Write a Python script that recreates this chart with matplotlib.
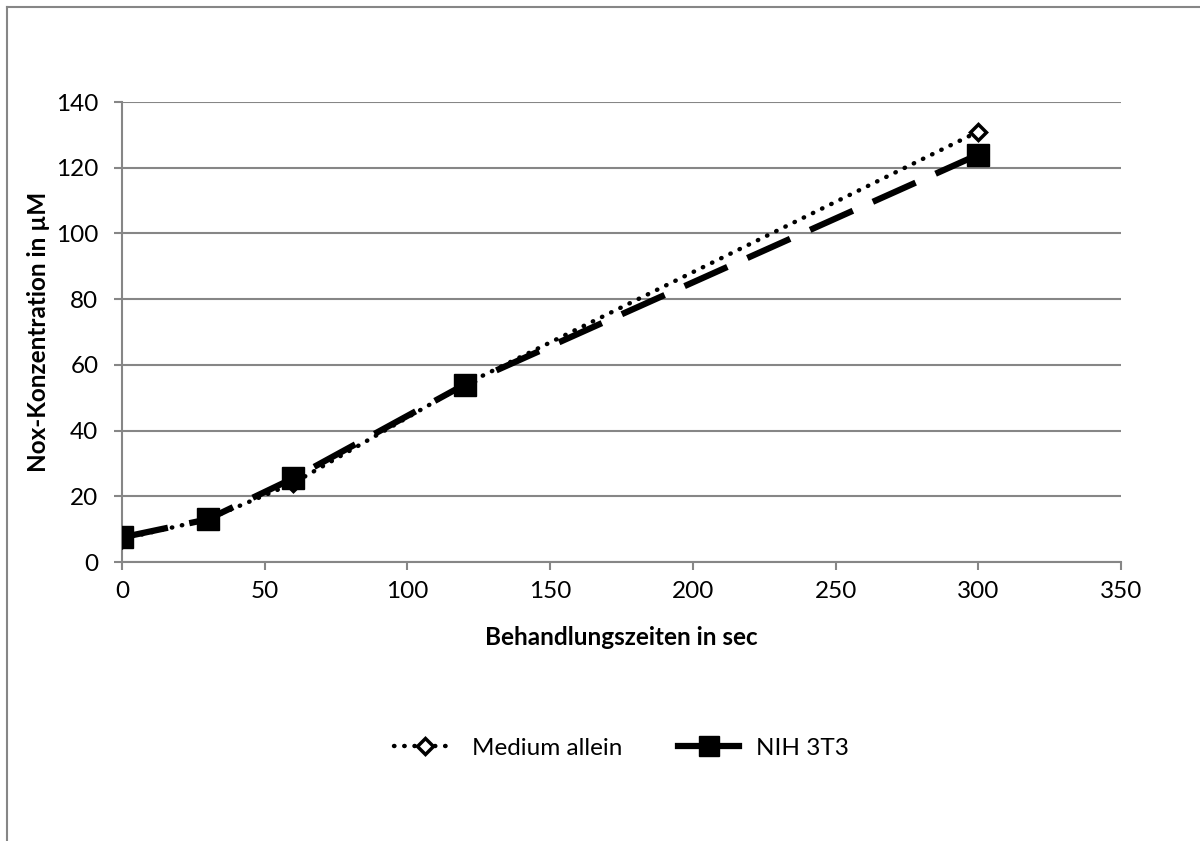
import matplotlib.pyplot as plt
from matplotlib.lines import Line2D

plt.rcParams['font.family'] = ['Lato', 'DejaVu Sans']

zeiten = [0, 30, 60, 120, 300]
medium_allein = [7, 13, 24, 54, 131]
nih_3t3 = [7.5, 13, 25.5, 54, 124]

x_ticks = [0, 50, 100, 150, 200, 250, 300, 350]
y_ticks = [0, 20, 40, 60, 80, 100, 120, 140]

grey = '#868686'

fig = plt.figure(figsize=(12, 8.41), dpi=100)
ax = fig.add_axes([0.1017, 0.3317, 0.8325, 0.547])

# outer chart border (only top/left visible in the source image)
fig.add_artist(Line2D([7 / 1200, 7 / 1200], [0, 1 - 7 / 841], color=grey, lw=1.5,
                      transform=fig.transFigure))
fig.add_artist(Line2D([7 / 1200, 1], [1 - 7 / 841, 1 - 7 / 841], color=grey, lw=1.5,
                      transform=fig.transFigure))

dotted = (0, (0.1, 2.2))
dashed = (0, (7.5, 3.5))

# lines first, markers on top (squares cover the diamonds)
ax.plot(zeiten, nih_3t3, linestyle=dashed, color='black', lw=4.5, zorder=2)
ax.plot(zeiten, medium_allein, linestyle=dotted, dash_capstyle='round',
        color='black', lw=3.2, zorder=3)
ax.plot(zeiten, medium_allein, linestyle='none', marker='D', markersize=8,
        markerfacecolor='white', markeredgecolor='black', markeredgewidth=2.5, zorder=4)
ax.plot(zeiten, nih_3t3, linestyle='none', marker='s', markersize=16,
        markerfacecolor='black', markeredgecolor='black', zorder=5)

ax.set_xlim(0, 350)
ax.set_ylim(0, 140)
ax.set_xticks(x_ticks)
ax.set_yticks(y_ticks)
ax.grid(axis='y', color=grey, lw=1.5)
ax.set_axisbelow(True)
for s in ['top', 'right']:
    ax.spines[s].set_visible(False)
for s in ['left', 'bottom']:
    ax.spines[s].set_color(grey)
    ax.spines[s].set_linewidth(1.5)
ax.tick_params(axis='both', colors=grey, width=1.5, length=6, labelsize=17.5,
               labelcolor='black')
ax.tick_params(axis='y', pad=11)
ax.tick_params(axis='x', pad=8)

ax.set_xlabel('Behandlungszeiten in sec', fontsize=17.5, fontweight='bold', labelpad=17)
ax.set_ylabel('Nox-Konzentration in µM', fontsize=17.5, fontweight='bold', labelpad=4)

handles = [
    Line2D([], [], linestyle=dotted, dash_capstyle='round', color='black', lw=3.2,
           marker='D', markersize=8, markerfacecolor='white', markeredgecolor='black',
           markeredgewidth=2.5),
    Line2D([], [], linestyle='-', color='black', lw=4.5, marker='s', markersize=15,
           markerfacecolor='black'),
]
ax.legend(handles, ['Medium allein', 'NIH 3T3'], loc='center',
          bbox_to_anchor=(0.5, -0.405), ncol=2, frameon=False, fontsize=17.5,
          handlelength=2.5, columnspacing=2.3, handletextpad=0.7)

fig.savefig('out.png', dpi=100, facecolor='white')
